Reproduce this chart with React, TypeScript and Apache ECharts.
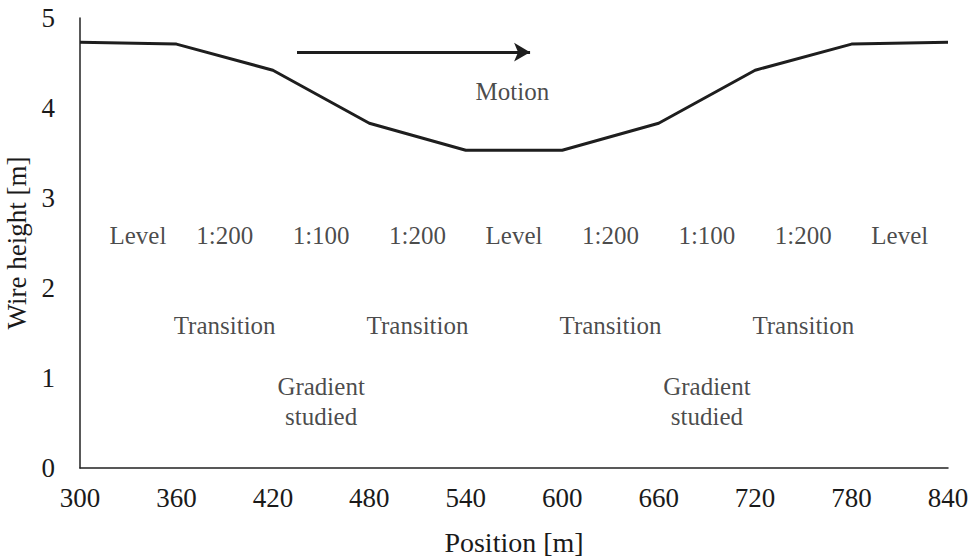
import React, { useEffect, useRef } from "react";
import * as echarts from "echarts";

const positions = [300, 360, 420, 480, 540, 600, 660, 720, 780, 840];
const heights = [4.73, 4.71, 4.42, 3.83, 3.53, 3.53, 3.83, 4.42, 4.71, 4.73];

const gradeLabels = ["Level", "1:200", "1:100", "1:200", "Level", "1:200", "1:100", "1:200", "Level"];
const gradeX = [336, 390, 450, 510, 570, 630, 690, 750, 810];
const gradeY = 2.58;

const transitionLabels = ["Transition", "Transition", "Transition", "Transition"];
const transitionX = [390, 510, 630, 750];
const transitionY = 1.58;

const studiedLabels = ["Gradient\nstudied", "Gradient\nstudied"];
const studiedX = [450, 690];
const studiedY = 0.74;

const motionArrow = [[435, 4.62], [580, 4.62]];
const motionText = { x: 569, y: 4.18, text: "Motion" };

const FONT = "'Liberation Serif', 'Times New Roman', serif";

export default function App() {
  const ref = useRef<HTMLDivElement>(null);
  useEffect(() => {
    if (!ref.current) return;
    const chart = echarts.init(ref.current, undefined, { renderer: "svg" });
    const textPoints = [
      ...gradeLabels.map((t, i) => ({ value: [gradeX[i], gradeY], name: t })),
      ...transitionLabels.map((t, i) => ({ value: [transitionX[i], transitionY], name: t })),
      ...studiedLabels.map((t, i) => ({ value: [studiedX[i], studiedY], name: t })),
      { value: [motionText.x, motionText.y], name: motionText.text },
    ];
    chart.setOption({
      animation: false,
      backgroundColor: "#ffffff",
      grid: { left: 80, right: 27, top: 18, bottom: 92, outerBoundsMode: "none", containLabel: false },
      xAxis: {
        type: "value",
        min: 300,
        max: 840,
        interval: 60,
        name: "Position [m]",
        nameLocation: "middle",
        nameGap: 60,
        nameTextStyle: { fontFamily: FONT, fontSize: 28, color: "#1a1a1a" },
        axisLine: { show: true, lineStyle: { color: "#222", width: 1.5 } },
        axisTick: { show: false },
        splitLine: { show: false },
        axisLabel: { fontFamily: FONT, fontSize: 27, color: "#1a1a1a", margin: 16 },
      },
      yAxis: {
        type: "value",
        min: 0,
        max: 5,
        interval: 1,
        name: "Wire height [m]",
        nameLocation: "middle",
        nameGap: 41,
        nameTextStyle: { fontFamily: FONT, fontSize: 27, color: "#1a1a1a" },
        axisLine: { show: true, lineStyle: { color: "#222", width: 1.5 } },
        axisTick: { show: false },
        splitLine: { show: false },
        axisLabel: { fontFamily: FONT, fontSize: 27, color: "#1a1a1a", margin: 25 },
      },
      series: [
        {
          type: "line",
          data: positions.map((p, i) => [p, heights[i]]),
          symbol: "none",
          lineStyle: { color: "#1e1e1e", width: 3 },
          markLine: {
            silent: true,
            symbol: ["none", "arrow"],
            symbolSize: [14, 16],
            label: { show: false },
            lineStyle: { color: "#1e1e1e", width: 3, type: "solid" },
            data: [[{ coord: motionArrow[0] }, { coord: motionArrow[1] }]],
          },
        },
        {
          type: "scatter",
          data: textPoints,
          symbolSize: 0,
          silent: true,
          label: {
            show: true,
            position: "inside",
            formatter: (p: any) => p.name,
            fontFamily: FONT,
            fontSize: 25,
            color: "#1a1a1a",
            lineHeight: 30,
          },
        },
      ],
    });
    return () => chart.dispose();
  }, []);
  return <div ref={ref} style={{ width: 975, height: 560, position: "absolute", left: 0, top: 0 }} />;
}
